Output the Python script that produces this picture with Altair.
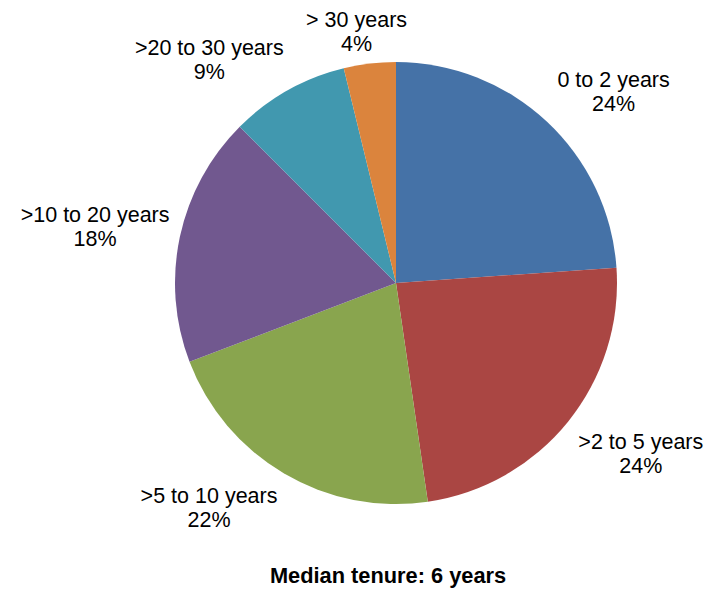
import altair as alt
import pandas as pd

categories = ["0 to 2 years", ">2 to 5 years", ">5 to 10 years", ">10 to 20 years", ">20 to 30 years", "> 30 years"]
shares = [23.9, 23.8, 21.5, 18.3, 8.7, 3.8]
pct_labels = ["24%", "24%", "22%", "18%", "9%", "4%"]
colors = ["#4572A7", "#AA4643", "#89A54E", "#71588F", "#4198AF", "#DB843D"]
subtitle = "Median tenure: 6 years"

df = pd.DataFrame({
    "cat": categories,
    "value": shares,
    "pct": pct_labels,
    "order": list(range(len(categories))),
})

R = 221
CX, CY = 388, 275
GAP = 10
HH = 24
LH = 24

pie = alt.Chart(df).mark_arc(outerRadius=R, stroke=None).encode(
    theta=alt.Theta("value:Q", stack=True),
    order=alt.Order("order:Q"),
    x=alt.value(CX), y=alt.value(CY),
    color=alt.Color("cat:N", sort=categories, scale=alt.Scale(domain=categories, range=colors), legend=None),
)

labels = alt.Chart(df).transform_joinaggregate(
    total="sum(value)"
).transform_window(
    cum="sum(value)", sort=[alt.SortField("order")], frame=[None, 0]
).transform_calculate(
    mid="(datum.cum - datum.value/2) / datum.total * 2 * PI",
    txt="[datum.cat, datum.pct]",
    hw="length(datum.cat) * 5.0",
).transform_calculate(
    lx=f"{CX} + {R + GAP} * sin(datum.mid) + datum.hw * clamp(2 * sin(datum.mid), -1, 1)",
    ly=f"{CY} - {R + GAP} * cos(datum.mid) - {HH} * clamp(2 * cos(datum.mid), -1, 1) - {LH / 2} + 3",
).mark_text(
    font="Liberation Sans", fontSize=21.5, lineHeight=LH, color="#000000", baseline="middle", align="center",
).encode(
    x=alt.X("lx:Q", scale=None),
    y=alt.Y("ly:Q", scale=None),
    text=alt.Text("txt:N"),
)

title = alt.Chart(pd.DataFrame({"t": [subtitle]})).mark_text(
    font="Liberation Sans", fontSize=21.8, fontWeight="bold", color="#000000", baseline="middle", align="center",
).encode(
    x=alt.value(380), y=alt.value(568), text="t:N",
)

chart = alt.layer(pie, labels, title).properties(
    width=697, height=585, autosize=alt.AutoSizeParams(type="none"), padding=0,
).configure_view(stroke=None)

chart.save("out.html", embed_options={"renderer": "svg", "actions": False})
